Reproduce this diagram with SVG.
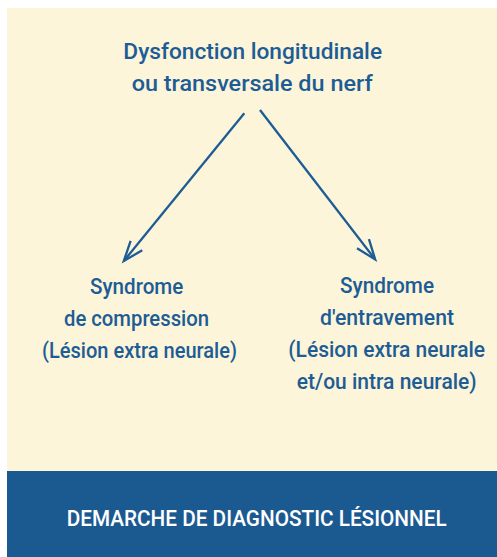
<svg xmlns="http://www.w3.org/2000/svg" width="497" height="557" viewBox="0 0 497 557">
<defs>
<style>
.t{font-family:Roboto,"Liberation Sans","DejaVu Sans",sans-serif;font-weight:500;fill:#1d5c94;text-anchor:middle}
.w{fill:#ffffff}
.c{stroke:#1d5c94;stroke-width:2.3;fill:none;stroke-linecap:butt}
</style>
<marker id="ah" markerUnits="userSpaceOnUse" markerWidth="30" markerHeight="30" viewBox="-25 -12 30 24" refX="0" refY="0" orient="auto">
<path d="M-20,-7.5 L0,0 L-20,7.5" fill="none" stroke="#1d5c94" stroke-width="2.3" stroke-linejoin="miter"/>
</marker>
</defs>
<rect x="0" y="0" width="497" height="557" fill="#ffffff"/>
<rect x="7" y="8" width="490" height="463" fill="#fcf5da"/>
<g id="footer">
<rect x="7" y="471" width="490" height="86" fill="#1b5a91"/>
<text class="t w" x="256.7" y="526" font-size="22.5" textLength="380" lengthAdjust="spacingAndGlyphs">DEMARCHE DE DIAGNOSTIC LÉSIONNEL</text>
</g>
<g id="top">
<text class="t" x="252.7" y="58.5" font-size="22.5" textLength="258.7" lengthAdjust="spacingAndGlyphs">Dysfonction longitudinale</text>
<text class="t" x="252.2" y="90.5" font-size="22.5" textLength="241" lengthAdjust="spacingAndGlyphs">ou transversale du nerf</text>
</g>
<g id="left">
<text class="t" x="136.7" y="293.5" font-size="22" textLength="93.3" lengthAdjust="spacingAndGlyphs">Syndrome</text>
<text class="t" x="136.5" y="325.5" font-size="22" textLength="145" lengthAdjust="spacingAndGlyphs">de compression</text>
<text class="t" x="139.5" y="357.5" font-size="22" textLength="195" lengthAdjust="spacingAndGlyphs">(Lésion extra neurale)</text>
</g>
<g id="right">
<text class="t" x="387" y="293" font-size="22" textLength="94" lengthAdjust="spacingAndGlyphs">Syndrome</text>
<text class="t" x="387" y="325" font-size="22" textLength="134" lengthAdjust="spacingAndGlyphs">d'entravement</text>
<text class="t" x="386.7" y="357" font-size="22" textLength="196.7" lengthAdjust="spacingAndGlyphs">(Lésion extra neurale</text>
<text class="t" x="386.7" y="388.5" font-size="22" textLength="180" lengthAdjust="spacingAndGlyphs">et/ou intra neurale)</text>
</g>
<g id="connectors">
<line class="c" x1="244.3" y1="113.3" x2="123.8" y2="261" marker-end="url(#ah)"/>
<line class="c" x1="260" y1="110" x2="375.2" y2="259.5" marker-end="url(#ah)"/>
</g>
</svg>
